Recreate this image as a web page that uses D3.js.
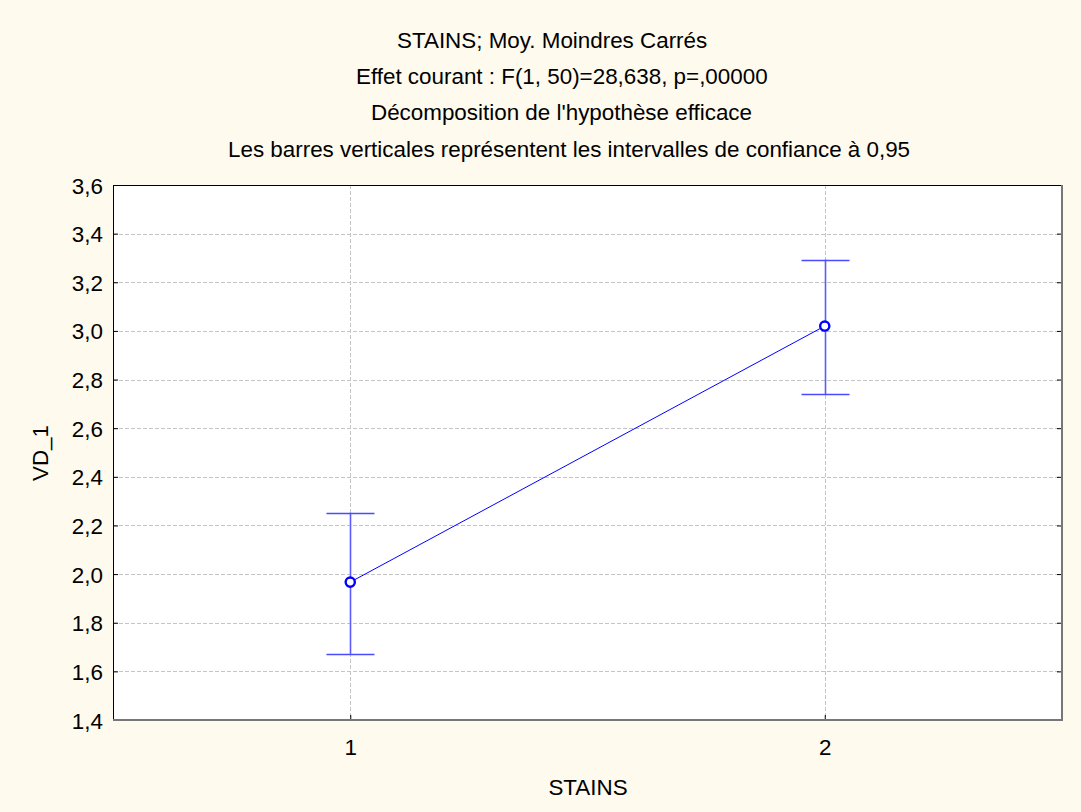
<!DOCTYPE html>
<html><head><meta charset="utf-8">
<script src="https://cdn.jsdelivr.net/npm/d3@7"></script>
<style>body{margin:0;background:#fefaee;}svg{display:block;font-family:"Liberation Sans",Arial,sans-serif;}</style>
</head><body>
<script>
const titles = ["STAINS; Moy. Moindres Carrés","Effet courant : F(1, 50)=28,638, p=,00000","Décomposition de l'hypothèse efficace","Les barres verticales représentent les intervalles de confiance à 0,95"];
const categories = [1, 2];
const means = [1.967, 3.020];
const upper = [2.252, 3.293];
const lower = [1.672, 2.740];
const yTicks = [1.4,1.6,1.8,2.0,2.2,2.4,2.6,2.8,3.0,3.2,3.4,3.6];
const xLabel = "STAINS", yLabel = "VD_1";

const W = 1081, H = 812, FS = 22.4;
const m = {l:113, r:1062, t:185, b:720};
const titleX = [397, 356, 371, 228];
const svg = d3.select("body").append("svg").attr("width",W).attr("height",H);
svg.append("rect").attr("width",W).attr("height",H).attr("fill","#fefaee");
const x = d3.scaleLinear().domain([0.5,2.5]).range([m.l,m.r]);
const y = d3.scaleLinear().domain([1.4,3.6]).range([m.b,m.t]);
const fmt = d => d3.format(".1f")(d).replace(".",",");

svg.append("rect").attr("x",m.l).attr("y",m.t).attr("width",m.r-m.l).attr("height",m.b-m.t).attr("fill","#fff");

// gridlines
svg.append("g").selectAll("line").data(yTicks.slice(1,-1)).join("line")
  .attr("x1",m.l).attr("x2",m.r).attr("y1",d=>Math.round(y(d))+0.5).attr("y2",d=>Math.round(y(d))+0.5)
  .attr("stroke","#c4c4c4").attr("stroke-dasharray","4,2");
svg.append("g").selectAll("line").data(categories).join("line")
  .attr("y1",m.t).attr("y2",m.b).attr("x1",d=>Math.round(x(d))+0.5).attr("x2",d=>Math.round(x(d))+0.5)
  .attr("stroke","#c4c4c4").attr("stroke-dasharray","4,2");

// axes
const yAx = d3.axisLeft(y).tickValues(yTicks).tickFormat(fmt).tickSizeInner(-5).tickSizeOuter(0).tickPadding(10);
const gy = svg.append("g").attr("transform",`translate(${m.l},0)`).call(yAx);
gy.select(".domain").remove();
gy.selectAll("line").attr("stroke","#000");
gy.selectAll("text").attr("font-size",FS).attr("fill","#000").attr("dy","0.36em");
const yAxR = d3.axisRight(y).tickValues(yTicks).tickFormat("").tickSizeInner(-5).tickSizeOuter(0);
const gyr = svg.append("g").attr("transform",`translate(${m.r},0)`).call(yAxR);
gyr.select(".domain").remove(); gyr.selectAll("line").attr("stroke","#000");
const xAx = d3.axisBottom(x).tickValues(categories).tickFormat(d3.format("d")).tickSizeInner(-5).tickSizeOuter(0).tickPadding(19);
const gx = svg.append("g").attr("transform",`translate(0,${m.b})`).call(xAx);
gx.select(".domain").remove(); gx.selectAll("line").attr("stroke","#000");
gx.selectAll("text").attr("font-size",FS).attr("fill","#000");

// frame
svg.append("line").attr("x1",m.l).attr("x2",m.r).attr("y1",m.t+0.5).attr("y2",m.t+0.5).attr("stroke","#000");
svg.append("line").attr("x1",m.l+0.5).attr("x2",m.l+0.5).attr("y1",m.t).attr("y2",m.b).attr("stroke","#000");
svg.append("line").attr("x1",m.r).attr("x2",m.r).attr("y1",m.t).attr("y2",m.b+1).attr("stroke","#777").attr("stroke-width",2);
svg.append("line").attr("x1",m.l).attr("x2",m.r+1).attr("y1",m.b).attr("y2",m.b).attr("stroke","#777").attr("stroke-width",2);

// error bars
const eb = svg.append("g");
categories.forEach((c,i)=>{
  const cx = Math.round(x(c))+0.5;
  eb.append("line").attr("x1",cx).attr("x2",cx).attr("y1",y(upper[i])).attr("y2",y(lower[i])).attr("stroke","#5a5aff").attr("stroke-width",1.6);
  [upper[i],lower[i]].forEach(v=>{
    eb.append("line").attr("x1",cx-24).attr("x2",cx+24).attr("y1",Math.round(y(v))+0.5).attr("y2",Math.round(y(v))+0.5).attr("stroke","#4a4aff").attr("stroke-width",1.3);
  });
});
// mean line
svg.append("path").datum(categories.map((c,i)=>[x(c),y(means[i])]))
  .attr("d",d3.line()).attr("fill","none").attr("stroke","#0000ff").attr("stroke-width",1);
svg.append("g").selectAll("circle").data(categories).join("circle")
  .attr("cx",d=>x(d)).attr("cy",(d,i)=>y(means[i])).attr("r",4.6).attr("fill","#fff").attr("stroke","#0000ff").attr("stroke-width",2.4);

// titles
svg.append("g").selectAll("text").data(titles).join("text")
  .attr("x",(d,i)=>titleX[i]).attr("y",(d,i)=>47.5+i*36.4).attr("font-size",FS).attr("fill","#000").text(d=>d);
svg.append("text").attr("x",588).attr("y",795).attr("text-anchor","middle").attr("font-size",FS).text(xLabel);
svg.append("text").attr("transform","translate(48,453) rotate(-90)").attr("text-anchor","middle").attr("font-size",FS).text(yLabel);
</script>
</body></html>
